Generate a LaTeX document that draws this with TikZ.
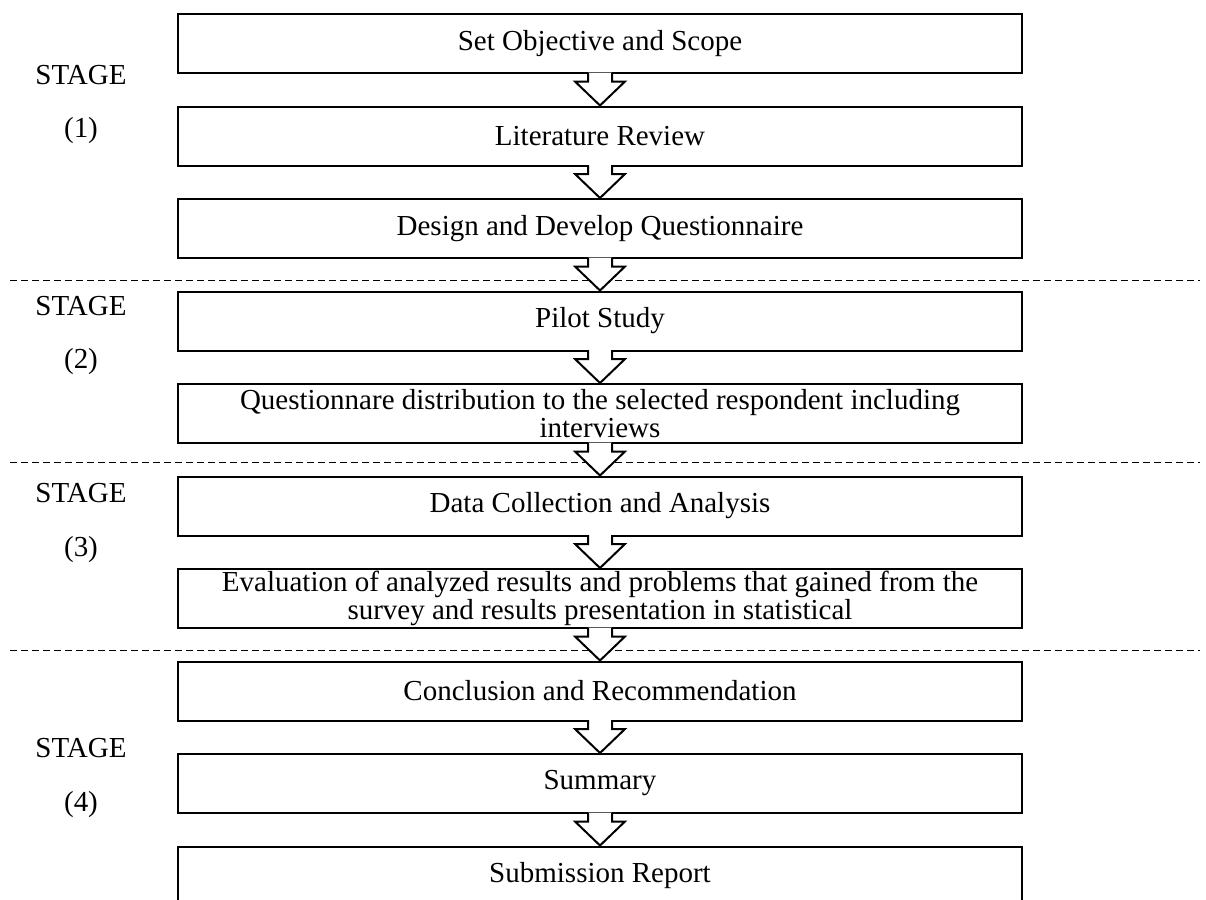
\documentclass[tikz,border=0pt]{standalone}
\usepackage{fontspec}
\setmainfont{Liberation Serif}
\usetikzlibrary{calc}

\tikzset{
  stepbox/.style={draw, line width=1pt, minimum width=422pt, minimum height=29.5pt,
    inner sep=0pt, align=center, font=\fontsize{14.5}{12.5}\selectfont},
  stagelabel/.style={font=\fontsize{14.5}{17}\selectfont},
  stageline/.style={line width=0.5pt, dash pattern=on 3.5pt off 2pt},
  blockarrow/.style={draw, line width=1pt, fill=white, line join=miter}
}

% block arrow from the bottom of one box to the top of the next
\newcommand\flowarrow[2]{%
  \draw[blockarrow] ($(#1.south)+(-12,-1.5)$) -- ($(#2.north)+(-12,-24)$)
    -- ($(#2.north)+(-25,-24)$) -- (#2.north) -- ($(#2.north)+(25,-24)$)
    -- ($(#2.north)+(12,-24)$) -- ($(#1.south)+(12,-1.5)$);}

\begin{document}
\begin{tikzpicture}[x=0.5pt, y=-0.5pt]
		\useasboundingbox (0,0) rectangle (1206,900);

		% STAGE 1
		\node[stepbox] (objective) at (600,43.5) {Set Objective and Scope};
		\node[stepbox] (review) at (600,136) {Literature Review};
		\node[stepbox] (design) at (600,228.5) {Design and Develop Questionnaire};
		\node[stagelabel] (stage1) at (81,75) {STAGE};
		\node[stagelabel] (num1) at (81,131) {(1)};

		% STAGE 2
		\node[stepbox] (pilot) at (600,321) {Pilot Study};
		\node[stepbox] (distribution) at (600,413.5) {Questionnare distribution to the selected respondent including\\interviews};
		\node[stagelabel] (stage2) at (81,306) {STAGE};
		\node[stagelabel] (num2) at (81,362) {(2)};

		% STAGE 3
		\node[stepbox] (collection) at (600,506) {Data Collection and Analysis};
		\node[stepbox] (evaluation) at (600,598.5) {Evaluation of analyzed results and problems that gained from the\\survey and results presentation in statistical};
		\node[stagelabel] (stage3) at (81,493) {STAGE};
		\node[stagelabel] (num3) at (81,550) {(3)};

		% STAGE 4
		\node[stepbox] (conclusion) at (600,691) {Conclusion and Recommendation};
		\node[stepbox] (summary) at (600,783.5) {Summary};
		\node[stepbox] (submission) at (600,876) {Submission Report};
		\node[stagelabel] (stage4) at (81,748) {STAGE};
		\node[stagelabel] (num4) at (81,805) {(4)};

		% STAGE BORDERS
		\draw[stageline] (10,280) -- (1200,280);
		\draw[stageline] (10,462) -- (1200,462);
		\draw[stageline] (10,650) -- (1200,650);

		% ARROWS
		\flowarrow{objective}{review}
		\flowarrow{review}{design}
		\flowarrow{design}{pilot}
		\flowarrow{pilot}{distribution}
		\flowarrow{distribution}{collection}
		\flowarrow{collection}{evaluation}
		\flowarrow{evaluation}{conclusion}
		\flowarrow{conclusion}{summary}
		\flowarrow{summary}{submission}
	\end{tikzpicture}
\end{document}
